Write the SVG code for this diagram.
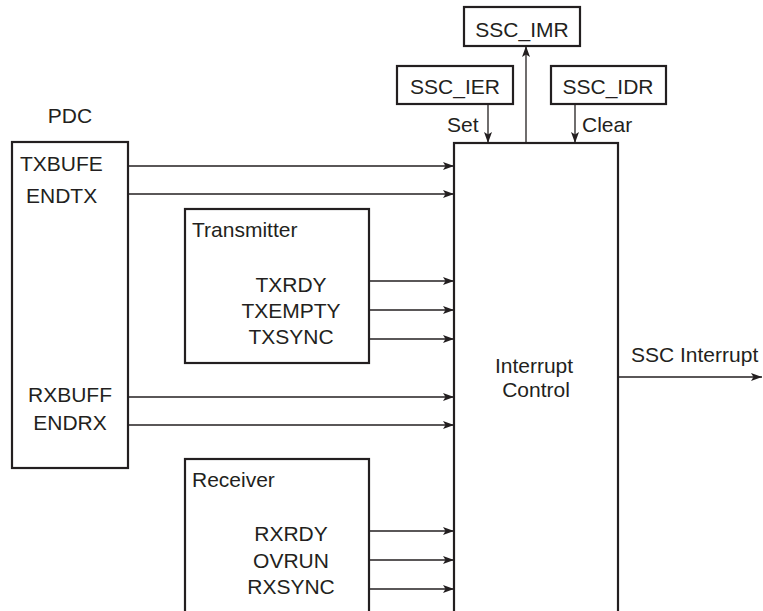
<svg xmlns="http://www.w3.org/2000/svg" width="763" height="611" viewBox="0 0 763 611">
<style>
text{font-family:"Liberation Sans",Arial,sans-serif;font-size:21px;fill:#231f20}
.box{fill:#fff;stroke:#231f20;stroke-width:2.2}
.ln{fill:none;stroke:#231f20;stroke-width:1.3}
.m{text-anchor:middle}
</style>
<defs>
<marker id="ah" markerUnits="userSpaceOnUse" markerWidth="12" markerHeight="10" refX="11" refY="4" orient="auto">
<path d="M0,0 L11,4 L0,8 L2.5,4 Z" fill="#231f20"/>
</marker>
</defs>
<g id="ssc_imr"><rect class="box" x="464" y="7" width="116" height="39"/><text class="m" x="522" y="37">SSC_IMR</text></g>
<g id="ssc_ier"><rect class="box" x="397" y="66" width="116" height="38"/><text class="m" x="455" y="94">SSC_IER</text></g>
<g id="ssc_idr"><rect class="box" x="551" y="66" width="115" height="38"/><text class="m" x="608" y="94">SSC_IDR</text></g>
<g id="interrupt_control"><rect class="box" x="454" y="143" width="164" height="475"/><text class="m" x="534" y="373">Interrupt</text><text class="m" x="536" y="397">Control</text></g>
<g id="pdc"><text class="m" x="70" y="123">PDC</text><rect class="box" x="12" y="142" width="116" height="326"/>
<text x="20" y="171">TXBUFE</text><text x="26" y="203">ENDTX</text>
<text class="m" x="70" y="402">RXBUFF</text><text class="m" x="70" y="430">ENDRX</text></g>
<g id="transmitter"><rect class="box" x="185" y="209" width="184" height="154"/><text x="192" y="237">Transmitter</text>
<text class="m" x="291" y="292">TXRDY</text><text class="m" x="291" y="318">TXEMPTY</text><text class="m" x="291" y="344">TXSYNC</text></g>
<g id="receiver"><rect class="box" x="185" y="459" width="184" height="160"/><text x="192" y="487">Receiver</text>
<text class="m" x="291" y="541">RXRDY</text><text class="m" x="291" y="568">OVRUN</text><text class="m" x="291" y="594">RXSYNC</text></g>
<g id="connectors">
<line class="ln" x1="488" y1="104" x2="488" y2="143" marker-end="url(#ah)"/>
<line class="ln" x1="526" y1="143" x2="526" y2="46" marker-end="url(#ah)"/>
<line class="ln" x1="575" y1="104" x2="575" y2="143" marker-end="url(#ah)"/>
<line class="ln" x1="128" y1="166" x2="454" y2="166" marker-end="url(#ah)"/>
<line class="ln" x1="128" y1="194" x2="454" y2="194" marker-end="url(#ah)"/>
<line class="ln" x1="369" y1="281" x2="454" y2="281" marker-end="url(#ah)"/>
<line class="ln" x1="369" y1="310" x2="454" y2="310" marker-end="url(#ah)"/>
<line class="ln" x1="369" y1="339" x2="454" y2="339" marker-end="url(#ah)"/>
<line class="ln" x1="128" y1="397" x2="454" y2="397" marker-end="url(#ah)"/>
<line class="ln" x1="128" y1="425" x2="454" y2="425" marker-end="url(#ah)"/>
<line class="ln" x1="369" y1="531" x2="454" y2="531" marker-end="url(#ah)"/>
<line class="ln" x1="369" y1="560" x2="454" y2="560" marker-end="url(#ah)"/>
<line class="ln" x1="369" y1="589" x2="454" y2="589" marker-end="url(#ah)"/>
<line class="ln" x1="618" y1="377" x2="762" y2="377" marker-end="url(#ah)"/>
<text x="447" y="132">Set</text>
<text x="582" y="132">Clear</text>
<text x="631" y="362">SSC Interrupt</text>
</g>
</svg>
